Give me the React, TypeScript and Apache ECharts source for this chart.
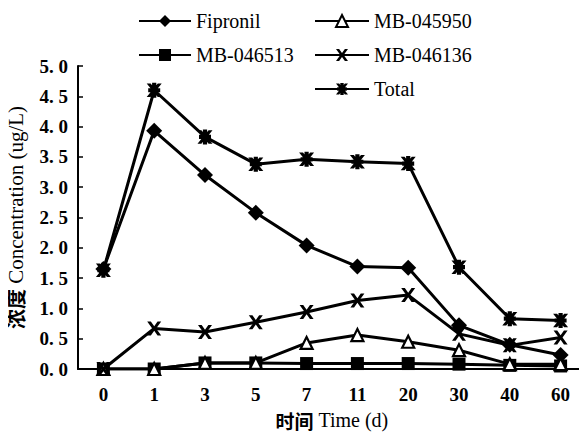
import React, { useEffect, useRef } from "react";
import * as echarts from "echarts";

const days = ["0", "1", "3", "5", "7", "11", "20", "30", "40", "60"];
const fipronil = [1.65, 3.93, 3.2, 2.58, 2.04, 1.69, 1.67, 0.72, 0.4, 0.23];
const mb046513 = [0, 0, 0.1, 0.1, 0.09, 0.09, 0.09, 0.08, 0.06, 0.05];
const mb045950 = [0, 0, 0.1, 0.1, 0.43, 0.56, 0.45, 0.31, 0.08, 0.08];
const mb046136 = [0, 0.67, 0.61, 0.77, 0.94, 1.13, 1.22, 0.58, 0.39, 0.52];
const total = [1.63, 4.6, 3.83, 3.38, 3.46, 3.42, 3.39, 1.68, 0.83, 0.8];
const yTicks = [0, 0.5, 1, 1.5, 2, 2.5, 3, 3.5, 4, 4.5, 5];

const SERIF = "'Liberation Serif', 'DejaVu Serif', serif";
const CJK = "'Noto Sans CJK SC'";

const crossPath =
  "path://M0,0 L2.6,0 L5,3.4 L7.4,0 L10,0 L6.4,5 L10,10 L7.4,10 L5,6.6 L2.6,10 L0,10 L3.6,5 Z";
const starPath =
  "path://M0,0.5 L2.6,0.5 L5,3.4 L7.4,0.5 L10,0.5 L6.4,5 L10,9.5 L7.4,9.5 L5,6.6 L2.6,9.5 L0,9.5 L3.6,5 Z M3.6,0 L6.4,0 L6.4,10 L3.6,10 Z M1,3.6 L9,3.6 L9,6.4 L1,6.4 Z";

function mk(name: string, data: number[], symbol: string, size: number, hollow = false) {
  return {
    name,
    type: "line",
    data,
    symbol,
    symbolSize: size,
    showAllSymbol: true,
    lineStyle: { color: "#000", width: 3 },
    itemStyle: {
      color: hollow ? "#fff" : "#000",
      borderColor: "#000",
      borderWidth: hollow ? 2.2 : 0,
    },
    emphasis: { disabled: true },
  };
}

export default function App() {
  const ref = useRef<HTMLDivElement>(null);
  useEffect(() => {
    const chart = echarts.init(ref.current!, null, { renderer: "svg" });
    const legendText = { fontFamily: SERIF, fontSize: 20, color: "#000" };
    const nameStyle = {
      fontFamily: SERIF,
      fontSize: 20,
      color: "#000",
      rich: {
        c: { fontFamily: CJK, fontWeight: "bold", fontSize: 19, color: "#000" },
      },
    };
    const yNameStyle = {
      fontFamily: SERIF,
      fontSize: 21,
      color: "#000",
      rich: {
        c: { fontFamily: CJK, fontWeight: "bold", fontSize: 20, color: "#000" },
      },
    };
    chart.setOption({
      animation: false,
      backgroundColor: "#fff",
      legend: [
        {
          data: ["Fipronil", "MB-046513"],
          orient: "vertical",
          left: 133,
          top: 6,
          itemWidth: 52,
          itemHeight: 15,
          itemGap: 14,
          textStyle: legendText,
        },
        {
          data: ["MB-045950", "MB-046136", "Total"],
          orient: "vertical",
          left: 309,
          top: 6,
          itemWidth: 54,
          itemHeight: 15,
          itemGap: 14,
          textStyle: legendText,
        },
      ],
      grid: {
        left: 78,
        right: 1,
        top: 66,
        bottom: 72,
        containLabel: false,
        outerBoundsMode: "none",
      },
      xAxis: {
        type: "category",
        data: days,
        boundaryGap: true,
        name: "{c|时间} Time (d)",
        nameLocation: "middle",
        nameGap: 41,
        nameTextStyle: nameStyle,
        axisLine: { lineStyle: { color: "#000", width: 2 } },
        axisTick: { inside: true, length: 5, lineStyle: { color: "#000", width: 1.5 } },
        axisLabel: { fontFamily: SERIF, fontSize: 19, fontWeight: "bold", color: "#000", margin: 16 },
      },
      yAxis: {
        type: "value",
        min: 0,
        max: 5,
        interval: 0.5,
        name: "{c|浓度} Concentration (ug/L)",
        nameLocation: "middle",
        nameRotate: 90,
        nameGap: 52,
        nameTextStyle: yNameStyle,
        splitLine: { show: false },
        axisLine: { show: true, lineStyle: { color: "#000", width: 2 } },
        axisTick: { show: true, inside: true, length: 5, lineStyle: { color: "#000", width: 1.5 } },
        axisLabel: {
          fontFamily: SERIF,
          fontSize: 19,
          fontWeight: "bold",
          color: "#000",
          margin: 10,
          formatter: (v: number) => {
            const s = yTicks.includes(v) ? v.toFixed(1) : String(v);
            return s.replace(".", ". ");
          },
        },
      },
      series: [
        mk("Fipronil", fipronil, "diamond", 16),
        mk("MB-046513", mb046513, "rect", 13),
        mk("MB-045950", mb045950, "triangle", 12, true),
        mk("MB-046136", mb046136, crossPath, 14),
        mk("Total", total, starPath, 15),
      ],
    });
    return () => chart.dispose();
  }, []);
  return <div ref={ref} style={{ width: 587, height: 441, margin: -8 }} />;
}
